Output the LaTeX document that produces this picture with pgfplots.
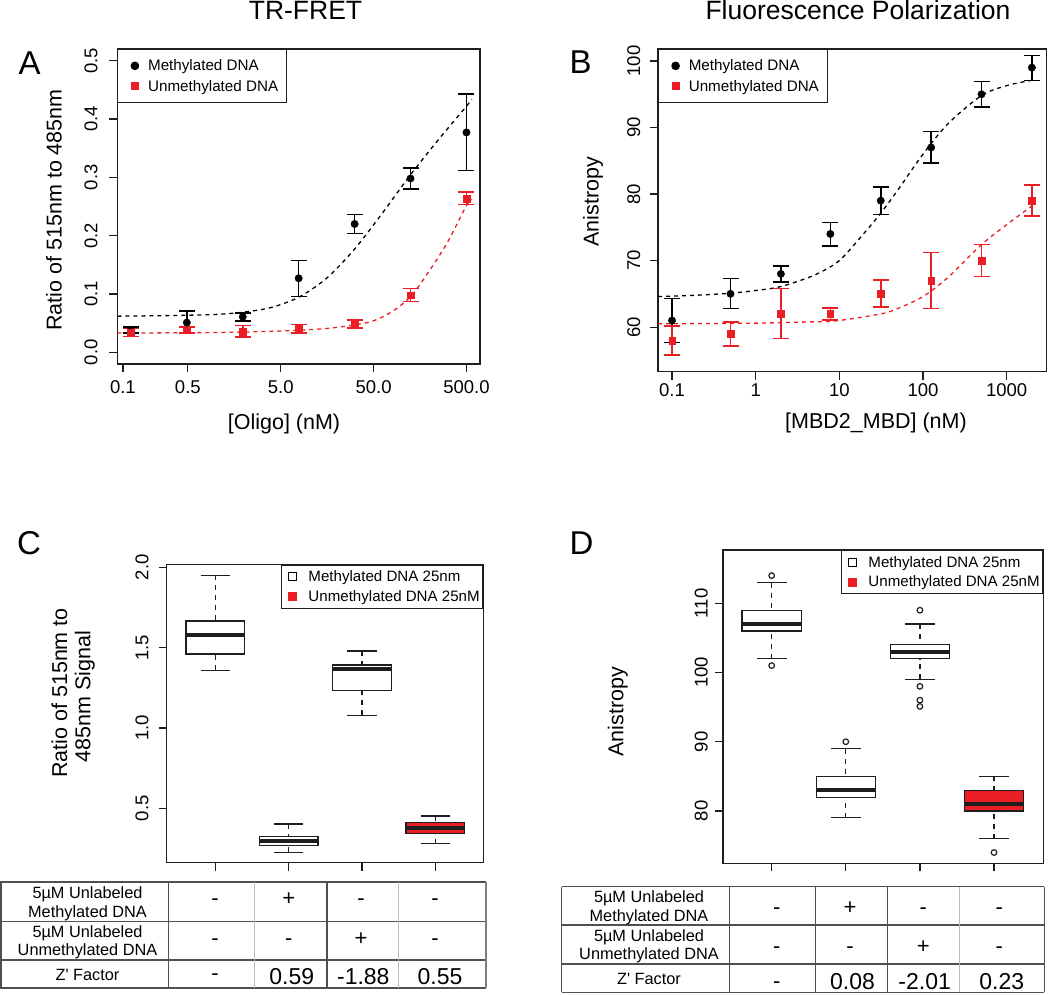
\documentclass[border=0pt]{standalone}
\usepackage{fontspec}
\setmainfont{Liberation Sans}
\usepackage{pgfplots}
\pgfplotsset{compat=1.18}
\usepgfplotslibrary{statistics}

\definecolor{rred}{RGB}{235,30,38}
\definecolor{axc}{RGB}{30,30,30}
\definecolor{tdark}{RGB}{80,80,80}
\definecolor{tlight}{RGB}{185,185,185}

\newcommand{\fs}[1]{\fontsize{#1pt}{#1pt}\selectfont}

\pgfplotsset{
  legend image code/.code={%
    \path[draw=none, fill=none] (0pt,0pt) -- (17pt,0pt);
    \draw[#1, only marks] plot coordinates {(8.5pt,0pt)};},
  rax/.style={
    scale only axis,
    axis line style={line width=1.2pt, draw=axc},
    tick style={line width=1.2pt, draw=axc},
    tick align=outside,
    major tick length=8pt,
    tick pos=left,
    xminorticks=false, yminorticks=false,
    tick label style={font=\fs{18.5}, inner sep=0pt},
    legend cell align=left,
  },
  errstyle/.style={
    /pgfplots/error bars/y dir=both,
    /pgfplots/error bars/y explicit,
    /pgfplots/error bars/error bar style={line width=1.5pt, #1},
    /pgfplots/error bars/error mark options={rotate=90, line width=1.5pt, #1, mark size=8pt}},
  fitline/.style={#1, line width=1.3pt, dash pattern=on 4pt off 4pt, smooth},
  rbox/.style={boxplot prepared={box extend=0.8, whisker extend=0.4, #1},
    draw=axc, line width=1.2pt},
  boxplot/every median/.style={line width=4pt},
  boxplot/draw/lower whisker/.code={%
    \draw[dash pattern=on 5pt off 5pt]
      (boxplot box cs:\pgfplotsboxplotvalue{lower whisker},0.5) --
      (boxplot box cs:\pgfplotsboxplotvalue{lower quartile},0.5);
    \draw (boxplot whisker cs:\pgfplotsboxplotvalue{lower whisker},0) --
      (boxplot whisker cs:\pgfplotsboxplotvalue{lower whisker},1);},
  boxplot/draw/upper whisker/.code={%
    \draw[dash pattern=on 5pt off 5pt]
      (boxplot box cs:\pgfplotsboxplotvalue{upper whisker},0.5) --
      (boxplot box cs:\pgfplotsboxplotvalue{upper quartile},0.5);
    \draw (boxplot whisker cs:\pgfplotsboxplotvalue{upper whisker},0) --
      (boxplot whisker cs:\pgfplotsboxplotvalue{upper whisker},1);},
}

\begin{document}
\begin{tikzpicture}
\path[use as bounding box] (0,0) rectangle (1050pt,-995pt);

% titles and panel letters
\node[anchor=base, font=\fs{26.5}] at (305.5pt,-20pt) {TR-FRET};
\node[anchor=base, font=\fs{26.5}] at (858pt,-20pt) {Fluorescence Polarization};
\node[anchor=base west, inner sep=0pt, font=\fs{33}] at (18.3pt,-74.5pt) {A};
\node[anchor=base west, inner sep=0pt, font=\fs{33}] at (569.5pt,-73.5pt) {B};
\node[anchor=base west, inner sep=0pt, font=\fs{33}] at (16.8pt,-554.5pt) {C};
\node[anchor=base west, inner sep=0pt, font=\fs{33}] at (569.5pt,-554.5pt) {D};

% axis labels
\node[anchor=base, font=\fs{21.5}] at (284pt,-429pt) {[Oligo] (nM)};
\node[anchor=base, font=\fs{21.5}] at (876pt,-428pt) {[MBD2\_MBD] (nM)};
\node[anchor=base, rotate=90, font=\fs{21.5}] at (61.5pt,-210pt) {Ratio of 515nm to 485nm};
\node[anchor=base, rotate=90, font=\fs{21.5}] at (598.7pt,-201.7pt) {Anistropy};
\node[anchor=base, rotate=90, font=\fs{21.5}] at (67pt,-693pt) {Ratio of 515nm to};
\node[anchor=base, rotate=90, font=\fs{21.5}] at (90.4pt,-696.5pt) {485nm Signal};
\node[anchor=base, rotate=90, font=\fs{21.5}] at (623.4pt,-711.7pt) {Anistropy};

% ---------------- A: TR-FRET titration
\begin{axis}[rax, at={(117.3pt,-49pt)}, anchor=north west,
  width=362.7pt, height=315pt,
  xmode=log, xmin=0.087, xmax=700, ymin=-0.02, ymax=0.52,
  xtick={0.1,0.5,5,50,500}, xticklabels={0.1,0.5,5.0,50.0,500.0},
  ytick={0,0.1,0.2,0.3,0.4,0.5}, yticklabels={0.0,0.1,0.2,0.3,0.4,0.5},
  xticklabel style={anchor=base, yshift=-22pt},
  yticklabel style={xshift=-12pt, rotate=90, anchor=base},
  legend style={at={(0,1)}, anchor=north west, draw=axc, line width=1.2pt,
    fill=white, font=\fs{15.2}, inner xsep=8.5pt, inner ysep=10pt, row sep=8pt,
    nodes={inner sep=0pt},
    /tikz/every odd column/.append style={column sep=4.7pt}},
]
\addplot[fitline=black, forget plot] coordinates {
  (0.087,0.062) (0.316,0.063) (1,0.065) (2,0.069) (3.98,0.077) (7.94,0.095)
  (15.85,0.128) (31.6,0.178) (63.1,0.240) (125.9,0.305) (251,0.365)
  (501,0.422) (570,0.434)};
\addplot[fitline=rred, forget plot] coordinates {
  (0.087,0.033) (1,0.034) (3.98,0.036) (7.94,0.038) (15.85,0.041) (31.6,0.047)
  (50,0.054) (79.4,0.070) (125.9,0.096) (200,0.140) (316,0.190)
  (501,0.252) (570,0.262)};
\addplot[black, only marks, mark=*, mark size=3.7pt, forget plot, errstyle=black]
coordinates {
  (0.122,0.038) += (0,0.005) -= (0,0.005)
  (0.488,0.051) += (0,0.020) -= (0,0.018)
  (1.953,0.061) += (0,0.006) -= (0,0.007)
  (7.81,0.127)  += (0,0.030) -= (0,0.031)
  (31.25,0.220) += (0,0.016) -= (0,0.016)
  (125,0.298)   += (0,0.018) -= (0,0.018)
  (500,0.377)   += (0,0.066) -= (0,0.065)};
\addplot[rred, only marks, mark=square*, mark size=3.3pt, forget plot, errstyle=rred]
coordinates {
  (0.122,0.034) += (0,0.007) -= (0,0.007)
  (0.488,0.038) += (0,0.005) -= (0,0.005)
  (1.953,0.035) += (0,0.011) -= (0,0.009)
  (7.81,0.040)  += (0,0.008) -= (0,0.007)
  (31.25,0.049) += (0,0.006) -= (0,0.007)
  (125,0.098)   += (0,0.011) -= (0,0.011)
  (500,0.263)   += (0,0.012) -= (0,0.010)};
\addlegendimage{mark=*, mark size=3.7pt, black}
\addlegendentry{Methylated DNA}
\addlegendimage{mark=square*, mark size=3.3pt, rred}
\addlegendentry{Unmethylated DNA}
\end{axis}

% ---------------- B: fluorescence polarization titration
\begin{axis}[rax, at={(658pt,-49pt)}, anchor=north west,
  width=388.7pt, height=322.7pt,
  xmode=log, xmin=0.068, xmax=3007, ymin=53.3, ymax=101.8,
  xtick={0.1,1,10,100,1000}, xticklabels={0.1,1,10,100,1000},
  ytick={60,70,80,90,100}, yticklabels={60,70,80,90,100},
  xticklabel style={anchor=base, yshift=-17pt},
  yticklabel style={xshift=-10pt, rotate=90, anchor=base},
  legend style={at={(0,1)}, anchor=north west, draw=axc, line width=1.2pt,
    fill=white, font=\fs{15.2}, inner xsep=8.5pt, inner ysep=10pt, row sep=8pt,
    nodes={inner sep=0pt},
    /tikz/every odd column/.append style={column sep=4.7pt}},
]
\addplot[fitline=black, forget plot] coordinates {
  (0.068,64.6) (0.2,64.8) (0.5,65.1) (1,65.5) (2,66.1) (5,67.8) (10,70.0)
  (20,74.2) (31.6,77.2) (50,80.6) (100,86.0) (200,90.6) (500,94.8)
  (1000,96.3) (2000,97.1)};
\addplot[fitline=rred, forget plot] coordinates {
  (0.068,60.5) (1,60.6) (5,60.8) (10,61.0) (31.6,62.0) (50,62.8) (100,64.6)
  (200,67.5) (500,72.4) (1000,75.4) (2000,78.2)};
\addplot[black, only marks, mark=*, mark size=3.7pt, forget plot, errstyle=black]
coordinates {
  (0.1,61.0)   += (0,3.3) -= (0,3.3)
  (0.5,65.0)   += (0,2.3) -= (0,2.2)
  (2,68.0)     += (0,1.2) -= (0,1.2)
  (7.81,74.0)  += (0,1.7) -= (0,1.8)
  (31.25,79.0) += (0,2.05) -= (0,2.1)
  (125,87.0)   += (0,2.4) -= (0,2.3)
  (500,95.0)   += (0,1.9) -= (0,1.9)
  (2000,99.0)  += (0,1.8) -= (0,1.9)};
\addplot[rred, only marks, mark=square*, mark size=3.3pt, forget plot, errstyle=rred]
coordinates {
  (0.1,58.0)   += (0,2.2) -= (0,2.2)
  (0.5,59.0)   += (0,1.8) -= (0,1.8)
  (2,62.0)     += (0,3.8) -= (0,3.7)
  (7.81,62.0)  += (0,0.9) -= (0,0.9)
  (31.25,65.0) += (0,2.1) -= (0,2.0)
  (125,67.0)   += (0,4.2) -= (0,4.2)
  (500,70.0)   += (0,2.4) -= (0,2.4)
  (2000,79.0)  += (0,2.35) -= (0,2.3)};
\addlegendimage{mark=*, mark size=3.7pt, black}
\addlegendentry{Methylated DNA}
\addlegendimage{mark=square*, mark size=3.3pt, rred}
\addlegendentry{Unmethylated DNA}
\end{axis}

% ---------------- C: TR-FRET boxplots
\begin{axis}[rax, at={(166.7pt,-564.3pt)}, anchor=north west,
  width=316.6pt, height=298.4pt,
  xmin=0.337, xmax=4.655, ymin=0.1614, ymax=2.0187,
  xtick={1,2,3,4}, xticklabels={},
  ytick={0.5,1,1.5,2}, yticklabels={0.5,1.0,1.5,2.0},
  yticklabel style={xshift=-10.4pt, rotate=90, anchor=base},
  boxplot/draw direction=y,
  legend style={at={(1,1)}, anchor=north east, draw=axc, line width=1.2pt,
    fill=white, font=\fs{15.1}, inner xsep=3pt, inner ysep=5.5pt, row sep=7.4pt,
    nodes={inner sep=0pt},
    /tikz/every odd column/.append style={column sep=7.3pt}},
]
\addplot[rbox={draw position=1, lower whisker=1.359, lower quartile=1.461,
  median=1.577, upper quartile=1.666, upper whisker=1.950}, fill=white, forget plot]
  coordinates {};
\addplot[rbox={draw position=2, lower whisker=0.226, lower quartile=0.270,
  median=0.295, upper quartile=0.324, upper whisker=0.402}, fill=white, forget plot]
  coordinates {};
\addplot[rbox={draw position=3, lower whisker=1.079, lower quartile=1.234,
  median=1.365, upper quartile=1.392, upper whisker=1.479}, fill=white, forget plot]
  coordinates {};
\addplot[rbox={draw position=4, lower whisker=0.280, lower quartile=0.344,
  median=0.376, upper quartile=0.411, upper whisker=0.452}, fill=rred, forget plot]
  coordinates {};
\addlegendimage{mark=square, mark size=4.2pt, black, line width=1.2pt}
\addlegendentry{Methylated DNA 25nm}
\addlegendimage{mark=square*, mark size=4pt, rred}
\addlegendentry{Unmethylated DNA 25nM}
\end{axis}

% ---------------- D: FP boxplots
\begin{axis}[rax, at={(723pt,-550pt)}, anchor=north west,
  width=320.3pt, height=313.3pt,
  xmin=0.343, xmax=4.665, ymin=72.44, ymax=117.7,
  xtick={1,2,3,4}, xticklabels={},
  ytick={80,90,100,110}, yticklabels={80,90,100,110},
  yticklabel style={xshift=-7.3pt, rotate=90, anchor=base},
  boxplot/draw direction=y,
  legend style={at={(1,1)}, anchor=north east, draw=axc, line width=1.2pt,
    fill=white, font=\fs{15.1}, inner xsep=3pt, inner ysep=5.5pt, row sep=7.4pt,
    nodes={inner sep=0pt},
    /tikz/every odd column/.append style={column sep=7.3pt}},
]
\addplot[rbox={draw position=1, lower whisker=102, lower quartile=106,
  median=107, upper quartile=109, upper whisker=113}, fill=white,
  mark=o, mark size=2.8pt, forget plot]
  coordinates {(1,114) (1,101)};
\addplot[rbox={draw position=2, lower whisker=79, lower quartile=82,
  median=83, upper quartile=85, upper whisker=89}, fill=white,
  mark=o, mark size=2.8pt, forget plot]
  coordinates {(2,90)};
\addplot[rbox={draw position=3, lower whisker=99, lower quartile=102,
  median=103, upper quartile=104, upper whisker=107}, fill=white,
  mark=o, mark size=2.8pt, forget plot]
  coordinates {(3,109) (3,98) (3,96) (3,95.1)};
\addplot[rbox={draw position=4, lower whisker=76, lower quartile=80,
  median=81, upper quartile=83, upper whisker=85}, fill=rred,
  mark=o, mark size=2.8pt, forget plot]
  coordinates {(4,74)};
\addlegendimage{mark=square, mark size=4.2pt, black, line width=1.2pt}
\addlegendentry{Methylated DNA 25nm}
\addlegendimage{mark=square*, mark size=4pt, rred}
\addlegendentry{Unmethylated DNA 25nM}
\end{axis}

% ---------------- table under C
\begin{scope}[line width=1.5pt]
\foreach \yy in {881.8,921.3,959.8,988.2}
  \draw[tdark] (0pt,-\yy pt) -- (486pt,-\yy pt);
\foreach \xx/\cc in {0.8/tdark,168.4/tdark,254.4/tlight,327/tdark,398.4/tlight,486/gray}
  \draw[\cc] (\xx pt,-881.8pt) -- (\xx pt,-988.2pt);
\end{scope}
\begin{scope}[every node/.style={anchor=base, inner sep=0pt}]
\node[font=\fs{16.3}] at (87.5pt,-898.5pt) {5µM Unlabeled};
\node[font=\fs{16.3}] at (87.5pt,-917pt) {Methylated DNA};
\node[font=\fs{16.3}] at (87.5pt,-937pt) {5µM Unlabeled};
\node[font=\fs{16.3}] at (87.5pt,-955.5pt) {Unmethylated DNA};
\node[font=\fs{16.3}] at (87.5pt,-980pt) {Z\textquotesingle{} Factor};
\foreach \xx/\ss in {215/-,288.7/+,361/-,435/-}
  \node[font=\fs{22}] at (\xx pt,-905.8pt) {\ss};
\foreach \xx/\ss in {215/-,288.7/-,361/+,435/-}
  \node[font=\fs{22}] at (\xx pt,-945.6pt) {\ss};
\node[font=\fs{22}] at (215pt,-980.8pt) {-};
\node[font=\fs{23}] at (291.7pt,-984pt) {0.59};
\node[font=\fs{23}] at (363.3pt,-984pt) {-1.88};
\node[font=\fs{23}] at (440pt,-984pt) {0.55};
\end{scope}

% ---------------- table under D
\begin{scope}[line width=1.5pt]
\foreach \yy in {886.7,925,964,992.3}
  \draw[tdark] (561.7pt,-\yy pt) -- (1044.3pt,-\yy pt);
\foreach \xx/\cc in {561.7/tdark,729.3/tdark,815.3/tdark,887.7/tdark,959.3/tlight,1044.3/tdark}
  \draw[\cc] (\xx pt,-886.7pt) -- (\xx pt,-992.3pt);
\end{scope}
\begin{scope}[every node/.style={anchor=base, inner sep=0pt}]
\node[font=\fs{16.3}] at (649pt,-902.5pt) {5µM Unlabeled};
\node[font=\fs{16.3}] at (649pt,-921pt) {Methylated DNA};
\node[font=\fs{16.3}] at (649pt,-941.5pt) {5µM Unlabeled};
\node[font=\fs{16.3}] at (649pt,-959.5pt) {Unmethylated DNA};
\node[font=\fs{16.3}] at (649pt,-984.5pt) {Z\textquotesingle{} Factor};
\foreach \xx/\ss in {776.7/-,850/+,923.3/-,999.3/-}
  \node[font=\fs{22}] at (\xx pt,-914pt) {\ss};
\foreach \xx/\ss in {776.7/-,850/-,923.3/+,999.3/-}
  \node[font=\fs{22}] at (\xx pt,-953pt) {\ss};
\node[font=\fs{22}] at (776.7pt,-988.5pt) {-};
\node[font=\fs{23}] at (852.5pt,-989pt) {0.08};
\node[font=\fs{23}] at (924.7pt,-989pt) {-2.01};
\node[font=\fs{23}] at (1001.7pt,-989pt) {0.23};
\end{scope}
\end{tikzpicture}
\end{document}
